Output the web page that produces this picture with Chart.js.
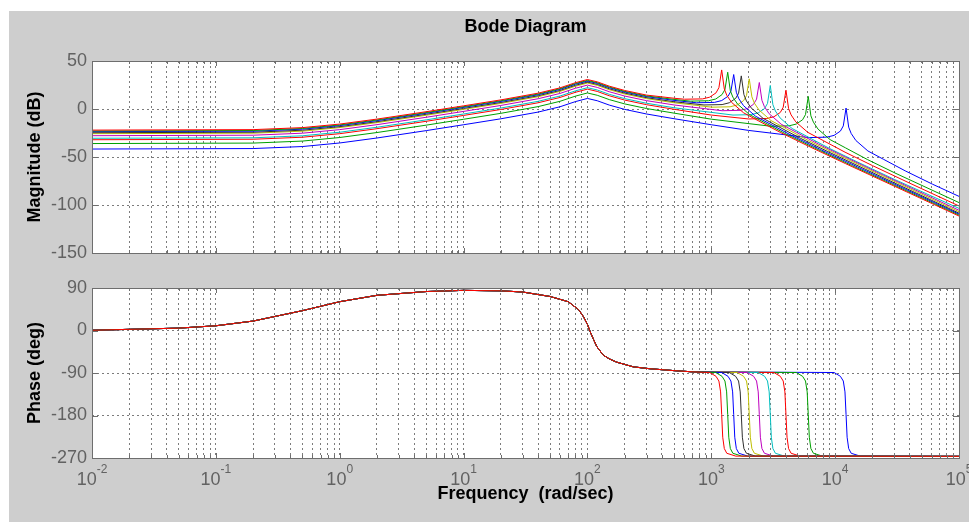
<!DOCTYPE html>
<html>
<head>
<meta charset="utf-8">
<title>Bode Diagram</title>
<script src="https://cdn.jsdelivr.net/npm/chart.js@4.4.0/dist/chart.umd.min.js"></script>
<style>
  body { margin: 0; background: #fff; }
  #panel { position: absolute; left: 9px; top: 11px; width: 960px; height: 511px; background: #cecece; }
  canvas { position: absolute; left: 0; top: 0; }
</style>
</head>
<body>
<div id="panel"></div>
<canvas id="magChart" width="969" height="522"></canvas>
<canvas id="phaseChart" width="969" height="522"></canvas>
<script>
Chart.defaults.font.family = "'Liberation Sans', Arial, Helvetica, sans-serif";

// frequency axis runs over whole decades, 1e-2 .. 1e5 rad/sec
const decades = [-2, -1, 0, 1, 2, 3, 4, 5];
const magTicks = [50, 0, -50, -100, -150];
const phaseTicks = [90, 0, -90, -180, -270];

// line colours, one per curve (matlab colour order, repeated)
const curveColors = ['#0000ff', '#00a000', '#ff0000', '#00bfbf', '#bf00bf',
                     '#bfbf00', '#303030', '#0000ff', '#00a000', '#ff0000'];

// magnitude curves, [rad/sec, dB]
const mag1 = [[0.01,-41.7],[0.2,-41.2],[0.5,-39.1],[1,-35.4],[2,-30.2],[5,-22.5],[10,-16.4],[20,-10.2],[40,-3.2],[60,2.3],[80,7.7],[100,11.0],[120,8.6],[150,4.1],[200,-0.4],[300,-5.2],[500,-10.1],[1000,-16.4],[2000,-22.3],[6125,-29.8],[8575,-29.3],[9800,-27.5],[11025,-23.0],[11638,-17.6],[12250,1.0],[12863,-18.9],[13475,-25.5],[14700,-32.8],[18375,-43.7],[24500,-52.3],[36750,-64.4],[61250,-78.4],[100000,-91.0]];
const mag2 = [[0.01,-36.0],[0.2,-35.5],[0.5,-33.4],[1,-29.7],[2,-24.5],[5,-16.8],[10,-10.7],[20,-4.5],[40,2.5],[60,8.0],[80,13.4],[100,16.7],[120,14.3],[150,9.8],[200,5.3],[300,0.5],[500,-4.3],[1000,-10.6],[3034,-18.0],[4247,-17.5],[4854,-15.7],[5460,-11.2],[5764,-5.8],[6067,13.1],[6370,-7.1],[6674,-13.7],[7280,-21.0],[9101,-31.9],[12134,-40.5],[18201,-52.6],[30335,-66.6],[100000,-97.5]];
const mag3 = [[0.01,-32.0],[0.2,-31.5],[0.5,-29.4],[1,-25.7],[2,-20.5],[5,-12.8],[10,-6.7],[20,-0.5],[40,6.5],[60,12.0],[80,17.4],[100,20.7],[120,18.3],[150,13.8],[200,9.3],[300,4.5],[500,-0.3],[1000,-6.3],[2004,-10.4],[2806,-9.9],[3206,-8.1],[3607,-3.6],[3808,1.8],[4008,19.6],[4208,0.5],[4409,-6.1],[4810,-13.4],[6012,-24.3],[8016,-32.9],[12024,-45.0],[20040,-59.0],[40080,-77.3],[100000,-101.0]];
const mag4 = [[0.01,-30.5],[0.2,-30.0],[0.5,-27.9],[1,-24.2],[2,-19.0],[5,-11.3],[10,-5.2],[20,1.0],[40,8.0],[60,13.5],[80,18.9],[100,22.2],[120,19.8],[150,15.3],[200,10.8],[300,6.0],[500,1.3],[1000,-3.5],[1497,-6.3],[2096,-5.9],[2395,-4.0],[2695,0.5],[2844,5.8],[2994,24.5],[3144,4.5],[3293,-2.1],[3593,-9.3],[4491,-20.3],[5988,-28.9],[8982,-41.0],[14970,-54.9],[29940,-73.2],[100000,-103.5]];
const mag5 = [[0.01,-27.8],[0.2,-27.3],[0.5,-25.2],[1,-21.5],[2,-16.3],[5,-8.6],[10,-2.5],[20,3.7],[40,10.7],[60,16.2],[80,21.6],[100,24.9],[120,22.5],[150,18.0],[200,13.5],[300,8.7],[500,4.2],[1221,-1.8],[1709,-1.4],[1954,0.4],[2198,5.0],[2320,10.3],[2442,27.6],[2564,9.0],[2686,2.4],[2930,-4.9],[3663,-15.8],[4884,-24.4],[7326,-36.5],[12210,-50.4],[24420,-68.8],[100000,-105.5]];
const mag6 = [[0.01,-25.7],[0.2,-25.2],[0.5,-23.1],[1,-19.4],[2,-14.2],[5,-6.5],[10,-0.4],[20,5.8],[40,12.8],[60,18.3],[80,23.7],[100,27.0],[120,24.6],[150,20.1],[200,15.6],[300,10.8],[500,6.5],[1013,1.9],[1418,2.3],[1621,4.2],[1823,8.7],[1925,14.0],[2026,31.4],[2127,12.7],[2229,6.1],[2431,-1.1],[3039,-12.1],[4052,-20.7],[6078,-32.8],[10130,-46.7],[20260,-65.0],[100000,-107.0]];
const mag7 = [[0.01,-24.7],[0.2,-24.2],[0.5,-22.1],[1,-18.4],[2,-13.2],[5,-5.5],[10,0.6],[20,6.8],[40,13.8],[60,19.3],[80,24.7],[100,28.0],[120,25.6],[150,21.1],[200,16.6],[300,11.8],[500,7.6],[873,4.2],[1223,4.6],[1398,6.5],[1572,11.0],[1660,16.3],[1747,34.5],[1834,15.0],[1922,8.4],[2096,1.2],[2621,-9.8],[3494,-18.4],[5241,-30.5],[8735,-44.4],[17470,-62.7],[100000,-108.5]];
const mag8 = [[0.01,-23.6],[0.2,-23.1],[0.5,-21.0],[1,-17.3],[2,-12.1],[5,-4.4],[10,1.7],[20,7.9],[40,14.9],[60,20.4],[80,25.8],[100,29.1],[120,26.7],[150,22.2],[200,17.7],[300,12.9],[500,9.0],[759,6.5],[1062,6.9],[1214,8.8],[1365,13.3],[1441,18.6],[1517,35.9],[1593,17.4],[1669,10.7],[1820,3.5],[2276,-7.5],[3034,-16.1],[4551,-28.2],[7585,-42.1],[15170,-60.4],[100000,-109.5]];
const mag9 = [[0.01,-22.9],[0.2,-22.4],[0.5,-20.3],[1,-16.6],[2,-11.4],[5,-3.7],[10,2.4],[20,8.6],[40,15.6],[60,21.1],[80,26.5],[100,29.8],[120,27.4],[150,22.9],[200,18.4],[300,13.6],[500,10.0],[679,8.2],[950,8.6],[1086,10.4],[1221,15.0],[1289,20.3],[1357,38.3],[1425,19.0],[1493,12.4],[1628,5.2],[2036,-5.8],[2714,-14.4],[4071,-26.5],[6785,-40.4],[13570,-58.8],[100000,-110.5]];
const mag10 = [[0.01,-22.0],[0.2,-21.5],[0.5,-19.4],[1,-15.7],[2,-10.5],[5,-2.8],[10,3.3],[20,9.5],[40,16.5],[60,22.0],[80,27.4],[100,30.7],[120,28.3],[150,23.8],[200,19.3],[300,14.5],[500,11.2],[607,10.2],[849,10.5],[970,12.3],[1092,16.8],[1152,22.2],[1213,40.7],[1274,20.9],[1334,14.3],[1456,7.0],[1820,-3.9],[2426,-12.6],[3639,-24.6],[6065,-38.6],[12130,-56.9],[100000,-111.5]];
const magCurves = [mag1, mag2, mag3, mag4, mag5, mag6, mag7, mag8, mag9, mag10];

// phase, [rad/sec, deg]: all curves share the part below ~700 rad/sec
const phaseShared = [[0.01,0.5],[0.05,5],[0.1,10],[0.2,20],[0.5,42],[1,61],[2,74.5],[5,82.5],[10,85],[20,84],[30,81.5],[50,72],[70,61],[85,44],[93,29],[100,13],[105,-2],[112,-19],[119,-34],[134,-52],[150,-60],[172,-67],[235,-77],[320,-81],[500,-85],[700,-87.5]];
// ...then each one falls by 180 deg at its own resonance
const phaseDrop1 = [[9800,-89],[11025,-97],[11638,-107],[12005,-130],[12250,-178],[12495,-226],[12863,-250],[13475,-260],[15925,-266],[100000,-266.5]];
const phaseDrop2 = [[4854,-89],[5460,-97],[5764,-107],[5946,-130],[6067,-178],[6188,-226],[6370,-250],[6674,-260],[7887,-266],[100000,-266.5]];
const phaseDrop3 = [[3206,-89],[3607,-97],[3808,-107],[3928,-130],[4008,-178],[4088,-226],[4208,-250],[4409,-260],[5210,-266],[100000,-266.5]];
const phaseDrop4 = [[2395,-89],[2695,-97],[2844,-107],[2934,-130],[2994,-178],[3054,-226],[3144,-250],[3293,-260],[3892,-266],[100000,-266.5]];
const phaseDrop5 = [[1954,-89],[2198,-97],[2320,-107],[2393,-130],[2442,-178],[2491,-226],[2564,-250],[2686,-260],[3175,-266],[100000,-266.5]];
const phaseDrop6 = [[1621,-89],[1823,-97],[1925,-107],[1985,-130],[2026,-178],[2067,-226],[2127,-250],[2229,-260],[2634,-266],[100000,-266.5]];
const phaseDrop7 = [[1398,-89],[1572,-97],[1660,-107],[1712,-130],[1747,-178],[1782,-226],[1834,-250],[1922,-260],[2271,-266],[100000,-266.5]];
const phaseDrop8 = [[1214,-89],[1365,-97],[1441,-107],[1487,-130],[1517,-178],[1547,-226],[1593,-250],[1669,-260],[1972,-266],[100000,-266.5]];
const phaseDrop9 = [[1086,-89],[1221,-97],[1289,-107],[1330,-130],[1357,-178],[1384,-226],[1425,-250],[1493,-260],[1764,-266],[100000,-266.5]];
const phaseDrop10 = [[970,-89],[1092,-97],[1152,-107],[1189,-130],[1213,-178],[1237,-226],[1274,-250],[1334,-260],[1577,-266],[100000,-266.5]];
const phaseDrops = [phaseDrop1, phaseDrop2, phaseDrop3, phaseDrop4, phaseDrop5,
                    phaseDrop6, phaseDrop7, phaseDrop8, phaseDrop9, phaseDrop10];

// log grid: 1..9 in every decade
const gridTicks = [];
decades.forEach(function (d) {
  for (let m = 1; m <= 9; m++) {
    if (d === decades[decades.length - 1] && m > 1) break;
    gridTicks.push({ value: m * Math.pow(10, d), major: m === 1 });
  }
});

const tickGray = '#626262';
const gridGray = '#7c7c7c';

// white plot area, box and inward tick marks like matlab axes
const axesBox = {
  id: 'axesBox',
  beforeDraw(chart) {
    const a = chart.chartArea, ctx = chart.ctx;
    ctx.save();
    ctx.fillStyle = '#fff';
    ctx.fillRect(a.left, a.top, a.right - a.left, a.bottom - a.top);
    ctx.restore();
  },
  afterDraw(chart) {
    const a = chart.chartArea, ctx = chart.ctx;
    const xs = chart.scales.x, ys = chart.scales.y;
    ctx.save();
    ctx.strokeStyle = '#6e6e6e';
    ctx.lineWidth = 1;
    ctx.beginPath();
    gridTicks.forEach(function (t) {
      const px = Math.round(xs.getPixelForValue(t.value)) + 0.5;
      const len = t.major ? 5 : 3;
      ctx.moveTo(px, a.top); ctx.lineTo(px, a.top + len);
      ctx.moveTo(px, a.bottom); ctx.lineTo(px, a.bottom - len);
    });
    ys.ticks.forEach(function (t) {
      const py = Math.round(ys.getPixelForValue(t.value)) + 0.5;
      ctx.moveTo(a.left, py); ctx.lineTo(a.left + 6, py);
      ctx.moveTo(a.right, py); ctx.lineTo(a.right - 6, py);
    });
    ctx.stroke();
    ctx.strokeRect(Math.round(a.left) + 0.5, Math.round(a.top) + 0.5,
                   Math.round(a.right - a.left), Math.round(a.bottom - a.top));
    ctx.restore();
  }
};

// 10^n labels with a raised exponent
const decadeLabels = {
  id: 'decadeLabels',
  afterDraw(chart) {
    const ctx = chart.ctx, xs = chart.scales.x, base = chart.chartArea.bottom;
    const bigFont = "18px 'Liberation Sans', Arial, sans-serif";
    const supFont = "12px 'Liberation Sans', Arial, sans-serif";
    ctx.save();
    ctx.fillStyle = tickGray;
    ctx.textBaseline = 'alphabetic';
    ctx.textAlign = 'left';
    decades.forEach(function (d) {
      const px = xs.getPixelForValue(Math.pow(10, d));
      ctx.font = bigFont;
      const w1 = ctx.measureText('10').width;
      ctx.font = supFont;
      const w2 = ctx.measureText(String(d)).width;
      const left = px - (w1 + w2) / 2;
      ctx.font = bigFont;
      ctx.fillText('10', left, base + 27);
      ctx.font = supFont;
      ctx.fillText(String(d), left + w1, base + 15);
    });
    ctx.restore();
  }
};

function freqAxis(height, title) {
  return {
    type: 'logarithmic',
    min: 0.01,
    max: 100000,
    afterBuildTicks: function (scale) { scale.ticks = gridTicks.map(t => ({ value: t.value })); },
    afterFit: function (scale) { scale.height = height; },
    ticks: { display: false, autoSkip: false },
    grid: { color: gridGray, drawTicks: false },
    border: { display: false, dash: [2, 3] },
    title: title
  };
}

function valueAxis(ticks, text) {
  return {
    min: ticks[ticks.length - 1],
    max: ticks[0],
    afterBuildTicks: function (scale) { scale.ticks = ticks.map(v => ({ value: v })); },
    afterFit: function (scale) { scale.width = 92; },
    ticks: { color: tickGray, font: { size: 18 }, padding: 5, autoSkip: false },
    grid: { color: gridGray, drawTicks: false },
    border: { display: false, dash: [2, 3] },
    title: {
      display: true,
      text: text,
      color: '#000',
      font: { size: 18, weight: 'bold' },
      padding: { top: 24, bottom: 0 }
    }
  };
}

function lineSets(curves) {
  return curves.map(function (pts, i) {
    return {
      label: 'curve ' + (i + 1),
      data: pts,
      borderColor: curveColors[i],
      borderWidth: 1,
      pointRadius: 0,
      tension: 0,
      fill: false,
      order: curves.length - i   // later curves on top
    };
  });
}

// magnitude plot
new Chart(document.getElementById('magChart'), {
  type: 'line',
  data: { datasets: lineSets(magCurves) },
  options: {
    responsive: false,
    animation: false,
    events: [],
    layout: { padding: { top: 0, right: 10, bottom: 269, left: 0 } },
    plugins: {
      legend: { display: false },
      tooltip: { enabled: false },
      title: {
        display: true,
        fullSize: false,   // centred over the plot area, not the canvas
        text: 'Bode Diagram',
        color: '#000',
        font: { size: 18, weight: 'bold' },
        padding: { top: 16, bottom: 23.4 }
      }
    },
    scales: {
      x: freqAxis(0, { display: false }),
      y: valueAxis(magTicks, 'Magnitude (dB)')
    }
  },
  plugins: [axesBox]
});

// phase plot
new Chart(document.getElementById('phaseChart'), {
  type: 'line',
  data: { datasets: lineSets(phaseDrops.map(drop => phaseShared.concat(drop))) },
  options: {
    responsive: false,
    animation: false,
    events: [],
    layout: { padding: { top: 288, right: 10, bottom: 0, left: 0 } },
    plugins: {
      legend: { display: false },
      tooltip: { enabled: false }
    },
    scales: {
      x: freqAxis(64, {
        display: true,
        text: 'Frequency  (rad/sec)',
        color: '#000',
        font: { size: 18, weight: 'bold' },
        padding: { top: 0, bottom: 17 }
      }),
      y: valueAxis(phaseTicks, 'Phase (deg)')
    }
  },
  plugins: [axesBox, decadeLabels]
});
</script>
</body>
</html>
